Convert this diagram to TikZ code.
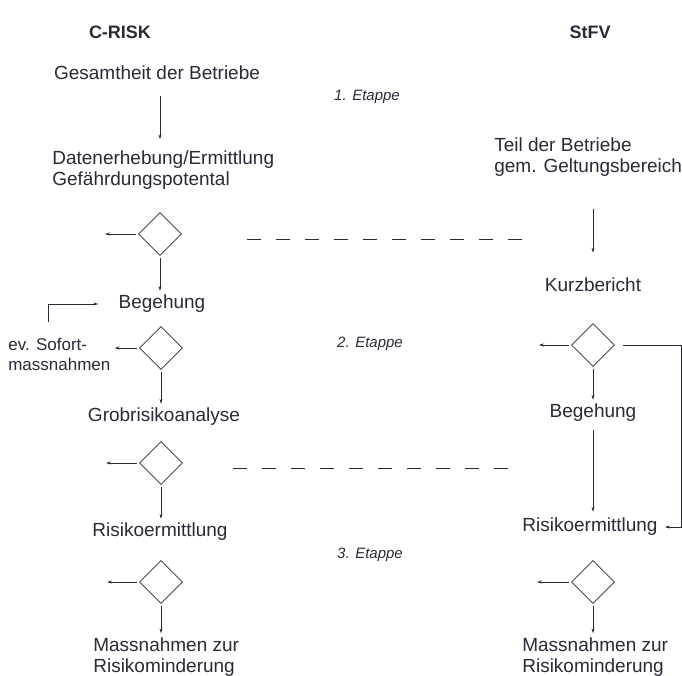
\documentclass[tikz,border=0pt]{standalone}
\usepackage{fontspec}
\setmainfont{Liberation Sans}
\usetikzlibrary{shapes.geometric,arrows.meta,positioning}

\definecolor{tinte}{RGB}{42,42,56}

\begin{document}
\begin{tikzpicture}[
  x=1pt, y=-1pt,
  >={Stealth[length=5pt,width=3pt]},
  line width=0.65pt,
  draw=tinte, text=tinte,
  every node/.style={font=\fontsize{19}{21}\selectfont, inner sep=2pt},
  entscheid/.style={draw, diamond, minimum width=43pt, minimum height=43pt, inner sep=0pt},
  titel/.style={font=\fontsize{18}{21}\selectfont\bfseries},
  etappe/.style={font=\fontsize{15}{18}\selectfont\itshape},
  klein/.style={font=\fontsize{17}{20}\selectfont},
  pfeil/.style={->, shorten <=2pt, shorten >=2pt},
  stufe/.style={dash pattern=on 14pt off 15pt}
]
  \useasboundingbox[fill=white] (0,0) rectangle (682,675);

  % Kopf
  \node[titel] (crisk) at (120,32) {C-RISK};
  \node[titel] (stfv) at (590,32) {StFV};

  % C-RISK Spalte
  \node (gesamt) at (157,73) {Gesamtheit der Betriebe};
  \node[anchor=west, align=left] (daten) at (50,170) {Datenerhebung/Ermittlung\\Gef\"ahrdungspotental};
  \node[entscheid] (e1) at (160,234) {};
  \node (beg1) at (162,304) {Begehung};
  \node[entscheid] (e2) at (161,348) {};
  \node[klein, anchor=west, align=left] (sofort) at (6,354) {ev. Sofort-\\massnahmen};
  \node (grob) at (164,417) {Grobrisikoanalyse};
  \node[entscheid] (e3) at (161,463) {};
  \node (risk1) at (160,532) {Risikoermittlung};
  \node[entscheid] (e4) at (161,582) {};
  \node[anchor=west, align=left] (mass1) at (91,657) {Massnahmen zur\\Risikominderung};

  % StFV Spalte
  \node[anchor=west, align=left] (teil) at (492,157) {Teil der Betriebe\\gem. Geltungsbereich};
  \node (kurz) at (593,285) {Kurzbericht};
  \node[entscheid] (e5) at (593,345) {};
  \node (beg2) at (593,413) {Begehung};
  \node (risk2) at (590,527) {Risikoermittlung};
  \node[entscheid] (e6) at (593,582) {};
  \node[anchor=west, align=left] (mass2) at (520,657) {Massnahmen zur\\Risikominderung};

  % Etappen
  \node[etappe] (et1) at (367,97) {1. Etappe};
  \node[etappe] (et2) at (370,344) {2. Etappe};
  \node[etappe] (et3) at (370,555) {3. Etappe};

  \coordinate (a1) at (103,234);
  \coordinate (a3) at (104,463);
  \coordinate (a4) at (105,582);
  \coordinate (a5) at (537,345);
  \coordinate (a6) at (535,582);
  \coordinate (s1a) at (247,239);
  \coordinate (s1b) at (522,239);
  \coordinate (s2a) at (233,468);
  \coordinate (s2b) at (512,468);
  \coordinate (rueck) at (48,322);
  \coordinate (rand) at (681,0);

  % Pfeile links
  \draw[->, shorten <=14pt, shorten >=9pt] (gesamt.south -| e1) -- (daten.north -| e1);
  \draw[pfeil] (e1) -- (beg1.north -| e1);
  \draw[pfeil] (e2) -- (grob.north -| e2);
  \draw[pfeil] (e3) -- (risk1.north -| e3);
  \draw[pfeil] (e4) -- (mass1.north -| e4);
  \draw[pfeil] (e1.west) -- (a1);
  \draw[pfeil] (e2.west) -- (e2.west -| sofort.east);
  \draw[pfeil] (e3.west) -- (a3);
  \draw[pfeil] (e4.west) -- (a4);
  \draw[->, shorten >=18pt] (rueck) |- (beg1.west);

  % Pfeile rechts
  \draw[->, shorten <=30pt, shorten >=23pt] (teil.south -| kurz) -- (kurz);
  \draw[pfeil] (e5) -- (beg2);
  \draw[->, shorten <=6pt, shorten >=4pt] (beg2) -- (risk2.north -| beg2);
  \draw[pfeil] (e6) -- (mass2.north -| e6);
  \draw[pfeil] (e5.west) -- (a5);
  \draw[pfeil] (e6.west) -- (a6);
  \draw[->, shorten <=8pt, shorten >=5pt] (e5.east) -- (e5.east -| rand) |- (risk2.east);

  % Etappengrenzen
  \draw[stufe] (s1a) -- (s1b);
  \draw[stufe] (s2a) -- (s2b);
\end{tikzpicture}
\end{document}
